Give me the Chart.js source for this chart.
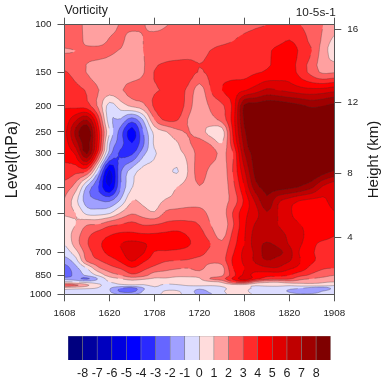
<!DOCTYPE html>
<html>
<head>
<meta charset="utf-8">
<script src="https://cdn.jsdelivr.net/npm/chart.js@4"></script>
<style>
html, body { margin: 0; padding: 0; background: #fff; }
canvas { position: absolute; left: 0; filter: blur(0.35px); }
#plot { top: 0; }
#bar { top: 325px; }
</style>
</head>
<body>
<canvas id="plot" width="386" height="325"></canvas>
<canvas id="bar" width="386" height="53"></canvas>
<script>
const hours = [0, 3, 6, 9, 12, 15, 18, 21, 24, 27, 30, 33, 36, 39, 42, 45, 48, 51, 54, 57, 60, 63, 66, 69, 72];
const levels = [100, 115, 125, 150, 175, 200, 225, 250, 275, 300, 350, 400, 450, 500, 550, 600, 650, 700, 750, 800, 850, 875, 900, 925, 950, 975, 1000];
const timeLabels = ['1608', '1620', '1708', '1720', '1808', '1820', '1908'];
const pressureTicks = [100, 150, 200, 250, 300, 400, 500, 700, 850, 1000];
const heightPressures = [104, 194.6, 356, 617];
const heightLabels = ['16', '12', '8', '4'];

const r100 = [2.6, 2.3, 1.8, 1.6, 1.6, 2.1, 2.3, 2.05, 1.8, 1.95, 2.2, 2.4, 2.5, 2.6, 2.6, 2.7, 2.8, 2.9, 3.0, 3.2, 3.3, 3.0, 2.6, 2.0, 1.6];
const r115 = [2.6, 2.4, 1.8, 1.6, 2.1, 2.2, 1.5, 2.0, 2.3, 2.4, 2.5, 2.6, 2.6, 2.7, 2.8, 3.0, 3.2, 3.4, 3.5, 3.7, 4.05, 3.5, 2.7, 1.8, 0.7];
const r125 = [1.9, 2.0, 2.2, 2.3, 2.2, 1.9, 1.5, 2.0, 2.3, 2.5, 2.6, 2.7, 2.8, 3.02, 3.3, 3.4, 3.5, 3.6, 3.8, 4.3, 4.5, 3.8, 3.0, 1.5, 0.5];
const r150 = [3.1, 2.6, 1.95, 1.5, 1.3, 1.3, 1.4, 1.9, 3.05, 3.4, 3.5, 3.4, 2.95, 3.2, 3.5, 3.6, 3.7, 3.9, 4.1, 4.4, 4.5, 3.6, 2.6, 1.8, 1.9];
const r175 = [3.6, 3.3, 2.9, 2.05, 1.5, 1.9, 2.4, 2.6, 2.9, 3.1, 3.3, 2.8, 1.5, 3.0, 4.0, 4.5, 4.9, 5.5, 6.2, 6.0, 5.7, 5.4, 5.3, 5.4, 5.7];
const r200 = [3.9, 3.7, 3.4, 1.8, -0.4, 0.5, 1.2, 1.7, 3.2, 3.7, 3.7, 2.5, 1.3, 2.2, 2.8, 4.3, 8.2, 8.5, 8.7, 8.7, 8.5, 8.2, 7.8, 8.0, 8.3];
const r225 = [4.4, 5.8, 6.9, 3.5, -0.7, -1.1, -2.5, -0.9, 2.0, 3.2, 3.1, 1.95, 1.4, 1.7, 2.4, 4.5, 8.2, 9, 9, 9, 9, 9, 9, 9, 9];
const r250 = [4.6, 7.3, 9, 4.5, 0.0, -2.5, -4.5, -2.0, 0.3, 0.9, 1.7, 2.05, 1.5, 0.6, 0.4, 4.2, 7.8, 9, 9, 9, 9, 9, 9, 9, 9];
const r275 = [4.5, 6.5, 8.5, 4.5, -0.9, -2.5, -4, -2.2, 0.2, 0.6, 0.9, 1.85, 2.35, 1.85, 1.0, 3.8, 7.4, 9, 9, 9, 9, 9, 9, 9, 9];
const r300 = [4.2, 5.2, 8.1, 3.5, -1.5, -3.2, -3.2, -1.3, -0.1, 0.3, 0.7, 1.3, 2.4, 2.5, 1.8, 3.0, 6.9, 8.5, 9, 9, 9, 9, 9, 9, 9];
const r350 = [3.7, 3.3, 3.0, -1.0, -5.2, -2.1, -0.5, 0.4, 0.4, 0.4, -0.1, 1.05, 2.5, 1.7, 1.4, 3.1, 5.8, 8.4, 9, 9, 9, 9, 9, 8.5, 7.9];
const r400 = [2.5, 1.5, -1.2, -3.0, -5.0, -2.0, -0.05, 0.4, 0.5, 0.5, 1.0, 1.4, 1.95, 1.5, 1.4, 2.7, 5.0, 7.6, 8.3, 8.5, 8.3, 7.9, 7.2, 5.8, 5.2];
const r450 = [1.9, 0.3, -1.5, -1.9, -2.1, -0.8, 1.0, 0.75, 0.6, 1.1, 1.3, 1.5, 1.5, 1.4, 1.6, 2.4, 4.2, 6.2, 7.8, 6.2, 5.5, 4.95, 4.7, 4.8, 5.4];
const r500 = [1.2, 1.0, -0.3, -0.4, -0.1, 1.1, 1.9, 1.5, 1.1, 2.2, 2.4, 2.5, 2.5, 1.7, 1.5, 3.1, 4.7, 5.6, 6.9, 6.0, 5.2, 4.4, 4.2, 4.4, 4.9];
const r550 = [0.5, 1.0, 1.9, 2.0, 2.7, 3.0, 3.3, 2.9, 2.95, 3.2, 3.3, 3.2, 2.95, 2.0, 1.3, 2.9, 4.8, 6.1, 6.6, 6.0, 5.5, 5.0, 4.5, 4.3, 4.5];
const r600 = [0.4, 1.5, 2.7, 3.4, 3.9, 4.2, 4.2, 4.1, 4.1, 4.2, 4.3, 3.9, 3.4, 2.5, 1.6, 3.3, 4.9, 6.4, 6.6, 6.3, 5.8, 5.2, 4.6, 4.6, 4.1];
const r650 = [0.0, 1.5, 2.9, 3.8, 4.4, 5.0, 5.3, 5.1, 4.7, 4.6, 4.5, 4.1, 3.6, 3.0, 2.2, 3.6, 5.0, 6.5, 7.1, 6.7, 5.9, 5.1, 4.3, 3.7, 3.5];
const r700 = [-0.6, 0.6, 2.5, 3.5, 4.3, 4.8, 5.6, 5.1, 3.9, 3.8, 3.7, 3.6, 3.4, 2.7, 2.5, 3.9, 5.3, 6.2, 7.5, 7.3, 6.4, 4.8, 4.1, 3.7, 3.4];
const r750 = [-1.5, -0.4, 2.2, 2.9, 3.5, 4.2, 5.1, 4.2, 3.5, 3.1, 3.0, 2.9, 2.6, 2.3, 2.5, 4.2, 5.2, 6.2, 7.0, 6.5, 6.1, 5.0, 4.2, 3.6, 3.4];
const r800 = [-2.5, -1.3, 0.0, 1.8, 2.6, 3.1, 3.9, 3.3, 2.7, 2.3, 2.1, 2.0, 2.3, 1.5, 1.6, 4.0, 5.0, 5.4, 5.8, 5.9, 5.2, 4.6, 3.6, 3.1, 3.0];
const r850 = [-2.7, -1.6, -0.8, 0.2, 1.5, 2.0, 2.8, 2.4, 1.5, 1.5, 1.3, 1.3, 1.4, 1.4, 1.8, 3.6, 5.2, 4.7, 4.3, 4.3, 4.0, 3.3, 2.8, 2.4, 2.0];
const r875 = [-1.4, -1.7, -2.2, -0.9, 0.5, 1.0, 1.5, 1.2, 0.9, 0.9, 0.7, 0.7, 0.9, 2.1, 2.6, 4.2, 5.6, 4.4, 3.5, 3.4, 3.2, 2.3, 2.0, 1.7, 1.5];
const r900 = [0.2, 0.0, -0.4, -0.4, 0.0, 0.3, 0.5, 0.4, 0.5, 0.5, 0.5, 0.5, 0.6, 0.8, 1.2, 3.0, 3.5, 1.8, 1.2, 1.1, 1.5, 1.4, 1.3, 1.1, 1.0];
const r925 = [2.6, 2.2, 1.2, 0.2, -0.3, -0.2, -0.1, -0.1, 0.2, -0.2, -0.1, 0.1, 0.2, 0.1, 0.2, 0.5, 0.5, 0.1, 0.3, 0.4, 0.2, 0.4, 0.5, 0.5, 0.1];
const r950 = [0.3, 0.2, 0.1, -0.1, -0.9, -2.0, -2.5, -1.1, -0.2, -0.3, -0.3, -0.5, -0.8, -0.5, -0.1, 0.1, 0.1, -0.1, -0.5, -0.7, -0.8, -1.0, -1.5, -1.7, -0.7];
const r975 = [-0.1, -0.2, -0.4, -0.5, -0.9, -2.2, -2.4, -0.9, -0.5, 0.1, 0.1, -0.5, -1.3, -0.8, -0.1, 0.2, 0.1, -0.2, -0.4, -0.7, -1.1, -1.6, -1.7, -0.9, -0.5];
const r1000 = [-0.3, -0.4, -0.3, -0.5, -0.7, -1.1, -1.1, -0.7, -0.3, 0.2, 0.2, -0.4, -1.2, -1.1, -0.3, 0.3, 0.2, -0.1, -0.3, -0.5, -0.7, -0.9, -0.8, -0.6, -0.3];
const vorticity = [r100, r115, r125, r150, r175, r200, r225, r250, r275, r300, r350, r400, r450, r500, r550, r600, r650, r700, r750, r800, r850, r875, r900, r925, r950, r975, r1000];

const contourLevels = [-8, -7, -6, -5, -4, -3, -2, -1, 0, 1, 2, 3, 4, 5, 6, 7, 8];
const bandColors = ['#00007f', '#00009f', '#0000bf', '#0000df', '#0000ff', '#2a2aff', '#6666ff', '#a0a0ff', '#dcdcff',
    '#ffdcdc', '#ffa0a0', '#ff6060', '#ff2a2a', '#ff0000', '#df0000', '#bf0000', '#9f0000', '#7f0000'];
const barCells = [-8.5, -7.5, -6.5, -5.5, -4.5, -3.5, -2.5, -1.5, -0.5, 0.5, 1.5, 2.5, 3.5, 4.5, 5.5, 6.5, 7.5, 8.5];

const fontFamily = '"Liberation Sans", Arial, sans-serif';
const inkColor = '#1c1c1c';
const axisColor = '#555';
const smooth = 3; // contour drawing steps per grid cell

// keep the part of a triangle at or above the level
function clipTriangle(tri, level) {
    const out = [];
    for (let i = 0; i < 3; i++) {
        const a = tri[i], b = tri[(i + 1) % 3];
        if (a.v >= level) out.push(a);
        if ((a.v >= level) !== (b.v >= level)) {
            const t = (level - a.v) / (b.v - a.v);
            out.push({ x: a.x + t * (b.x - a.x), y: a.y + t * (b.y - a.y), v: level });
        }
    }
    return out;
}

function cubic(p0, p1, p2, p3, t) {
    return p1 + 0.5 * t * (p2 - p0 + t * (2 * p0 - 5 * p1 + 4 * p2 - p3 + t * (3 * (p1 - p2) + p3 - p0)));
}

function fieldAt(i, j, ti, tj) {
    const row = k => vorticity[Math.max(0, Math.min(vorticity.length - 1, i + k))];
    const col = (r, k) => r[Math.max(0, Math.min(hours.length - 1, j + k))];
    const across = r => cubic(col(r, -1), col(r, 0), col(r, 1), col(r, 2), tj);
    return cubic(across(row(-1)), across(row(0)), across(row(1)), across(row(2)), ti);
}

function cellTriangles(chart) {
    const xs = chart.scales.x, ys = chart.scales.y;
    const px = hours.map(h => xs.getPixelForValue(h));
    const py = levels.map(p => ys.getPixelForValue(p));
    const pts = [];
    for (let i = 0; i < py.length - 1; i++) {
        for (let si = 0; si < smooth + (i === py.length - 2 ? 1 : 0); si++) {
            const ti = si / smooth, line = [];
            for (let j = 0; j < px.length - 1; j++) {
                for (let sj = 0; sj < smooth + (j === px.length - 2 ? 1 : 0); sj++) {
                    const tj = sj / smooth;
                    line.push({ x: px[j] + tj * (px[j + 1] - px[j]), y: py[i] + ti * (py[i + 1] - py[i]), v: fieldAt(i, j, ti, tj) });
                }
            }
            pts.push(line);
        }
    }
    const tris = [];
    for (let i = 0; i < pts.length - 1; i++) {
        for (let j = 0; j < pts[i].length - 1; j++) {
            const a = pts[i][j], b = pts[i][j + 1], c = pts[i + 1][j + 1], d = pts[i + 1][j];
            const m = { x: (a.x + c.x) / 2, y: (a.y + c.y) / 2, v: (a.v + b.v + c.v + d.v) / 4 };
            tris.push([a, b, m], [b, c, m], [c, d, m], [d, a, m]);
        }
    }
    return tris;
}

const contourPlugin = {
    id: 'contour',
    beforeDatasetsDraw(chart) {
        const ctx = chart.ctx, area = chart.chartArea;
        const tris = cellTriangles(chart);
        ctx.save();
        ctx.beginPath();
        ctx.rect(area.left, area.top, area.right - area.left, area.bottom - area.top);
        ctx.clip();
        ctx.fillStyle = bandColors[0];
        ctx.fillRect(area.left, area.top, area.right - area.left, area.bottom - area.top);
        contourLevels.forEach((level, k) => {
            ctx.beginPath();
            tris.forEach(tri => {
                const poly = clipTriangle(tri, level);
                if (poly.length < 3) return;
                ctx.moveTo(poly[0].x, poly[0].y);
                for (let i = 1; i < poly.length; i++) ctx.lineTo(poly[i].x, poly[i].y);
                ctx.closePath();
            });
            ctx.fillStyle = bandColors[k + 1];
            ctx.fill();
        });
        ctx.strokeStyle = 'rgba(50,50,50,0.5)';
        ctx.lineWidth = 0.6;
        contourLevels.forEach(level => {
            ctx.beginPath();
            tris.forEach(tri => {
                const p = clipTriangle(tri, level).filter(q => q.v === level);
                if (p.length === 2) {
                    ctx.moveTo(p[0].x, p[0].y);
                    ctx.lineTo(p[1].x, p[1].y);
                }
            });
            ctx.stroke();
        });
        ctx.restore();
    },
    afterDraw(chart) {
        const ctx = chart.ctx, area = chart.chartArea;
        ctx.save();
        ctx.fillStyle = inkColor;
        ctx.font = '12.4px ' + fontFamily;
        ctx.textAlign = 'left';
        ctx.fillText('Vorticity', area.left, 14);
        ctx.font = '11.8px ' + fontFamily;
        ctx.textAlign = 'right';
        ctx.fillText('10-5s-1', area.right + 1.5, 16);
        // right axis title reads upward in the reference
        ctx.font = '15px ' + fontFamily;
        ctx.textAlign = 'center';
        ctx.textBaseline = 'middle';
        ctx.translate(373.5, (area.top + area.bottom) / 2);
        ctx.rotate(-Math.PI / 2);
        ctx.fillText('Height (km)', 0, 0);
        ctx.restore();
    }
};

function axisGrid() {
    return { drawOnChartArea: false, tickLength: 7, color: axisColor, tickColor: axisColor, lineWidth: 1 };
}

const tickFont = { family: fontFamily, size: 9.8 };

new Chart(document.getElementById('plot'), {
    type: 'scatter',
    data: {
        datasets: [{
            data: levels.flatMap(p => hours.map(h => ({ x: h, y: p }))),
            pointRadius: 0
        }]
    },
    options: {
        responsive: false,
        animation: false,
        layout: { padding: 0 },
        plugins: { legend: { display: false }, tooltip: { enabled: false } },
        scales: {
            x: {
                type: 'linear', position: 'bottom', min: 0, max: 72,
                grid: axisGrid(),
                border: { color: axisColor, z: 1 },
                ticks: {
                    stepSize: 12, maxRotation: 0, autoSkip: false, padding: 6, color: inkColor, font: tickFont,
                    callback: v => timeLabels[v / 12]
                },
                afterFit: s => { s.height = 30.7; }
            },
            xTop: {
                type: 'linear', position: 'top', min: 0, max: 72,
                grid: axisGrid(),
                border: { color: axisColor, z: 1 },
                ticks: { stepSize: 12, autoSkip: false, callback: () => '' },
                afterFit: s => { s.height = 24.7; }
            },
            y: {
                type: 'logarithmic', position: 'left', reverse: true, min: 100, max: 1000,
                grid: axisGrid(),
                border: { color: axisColor, z: 1 },
                afterBuildTicks: s => { s.ticks = pressureTicks.map(v => ({ value: v })); },
                ticks: { autoSkip: false, padding: 6, color: inkColor, font: tickFont, callback: v => String(v) },
                title: { display: true, text: 'Level(hPa)', color: inkColor, font: { family: fontFamily, size: 16 }, padding: { top: 3, bottom: 0 } },
                afterFit: s => { s.width = 64.5; }
            },
            yRight: {
                type: 'logarithmic', position: 'right', reverse: true, min: 100, max: 1000,
                grid: axisGrid(),
                border: { color: axisColor, z: 1 },
                afterBuildTicks: s => { s.ticks = heightPressures.map(v => ({ value: v })); },
                ticks: {
                    autoSkip: false, padding: 6, color: inkColor, font: tickFont,
                    callback: v => heightLabels[heightPressures.indexOf(v)]
                },
                afterFit: s => { s.width = 51.7; }
            }
        }
    },
    plugins: [contourPlugin]
});

new Chart(document.getElementById('bar'), {
    type: 'bar',
    data: {
        datasets: [{
            data: barCells.map(c => ({ x: c, y: 1 })),
            backgroundColor: bandColors,
            borderColor: 'rgba(70,70,70,0.6)',
            borderWidth: 0.6,
            barPercentage: 1,
            categoryPercentage: 1
        }]
    },
    options: {
        responsive: false,
        animation: false,
        layout: { padding: { left: 68, right: 55.3, top: 11, bottom: 0 } },
        plugins: { legend: { display: false }, tooltip: { enabled: false } },
        scales: {
            x: {
                type: 'linear', min: -9, max: 9, offset: false,
                grid: { display: false, drawTicks: false },
                border: { display: false },
                ticks: {
                    stepSize: 1, autoSkip: false, maxRotation: 0, padding: 6, color: inkColor,
                    font: { family: fontFamily, size: 12.5 },
                    callback: v => (Math.abs(v) === 9 ? '' : String(v))
                },
                afterFit: s => { s.height = 18; }
            },
            y: { min: 0, max: 1, display: false }
        }
    }
});
</script>
</body>
</html>
